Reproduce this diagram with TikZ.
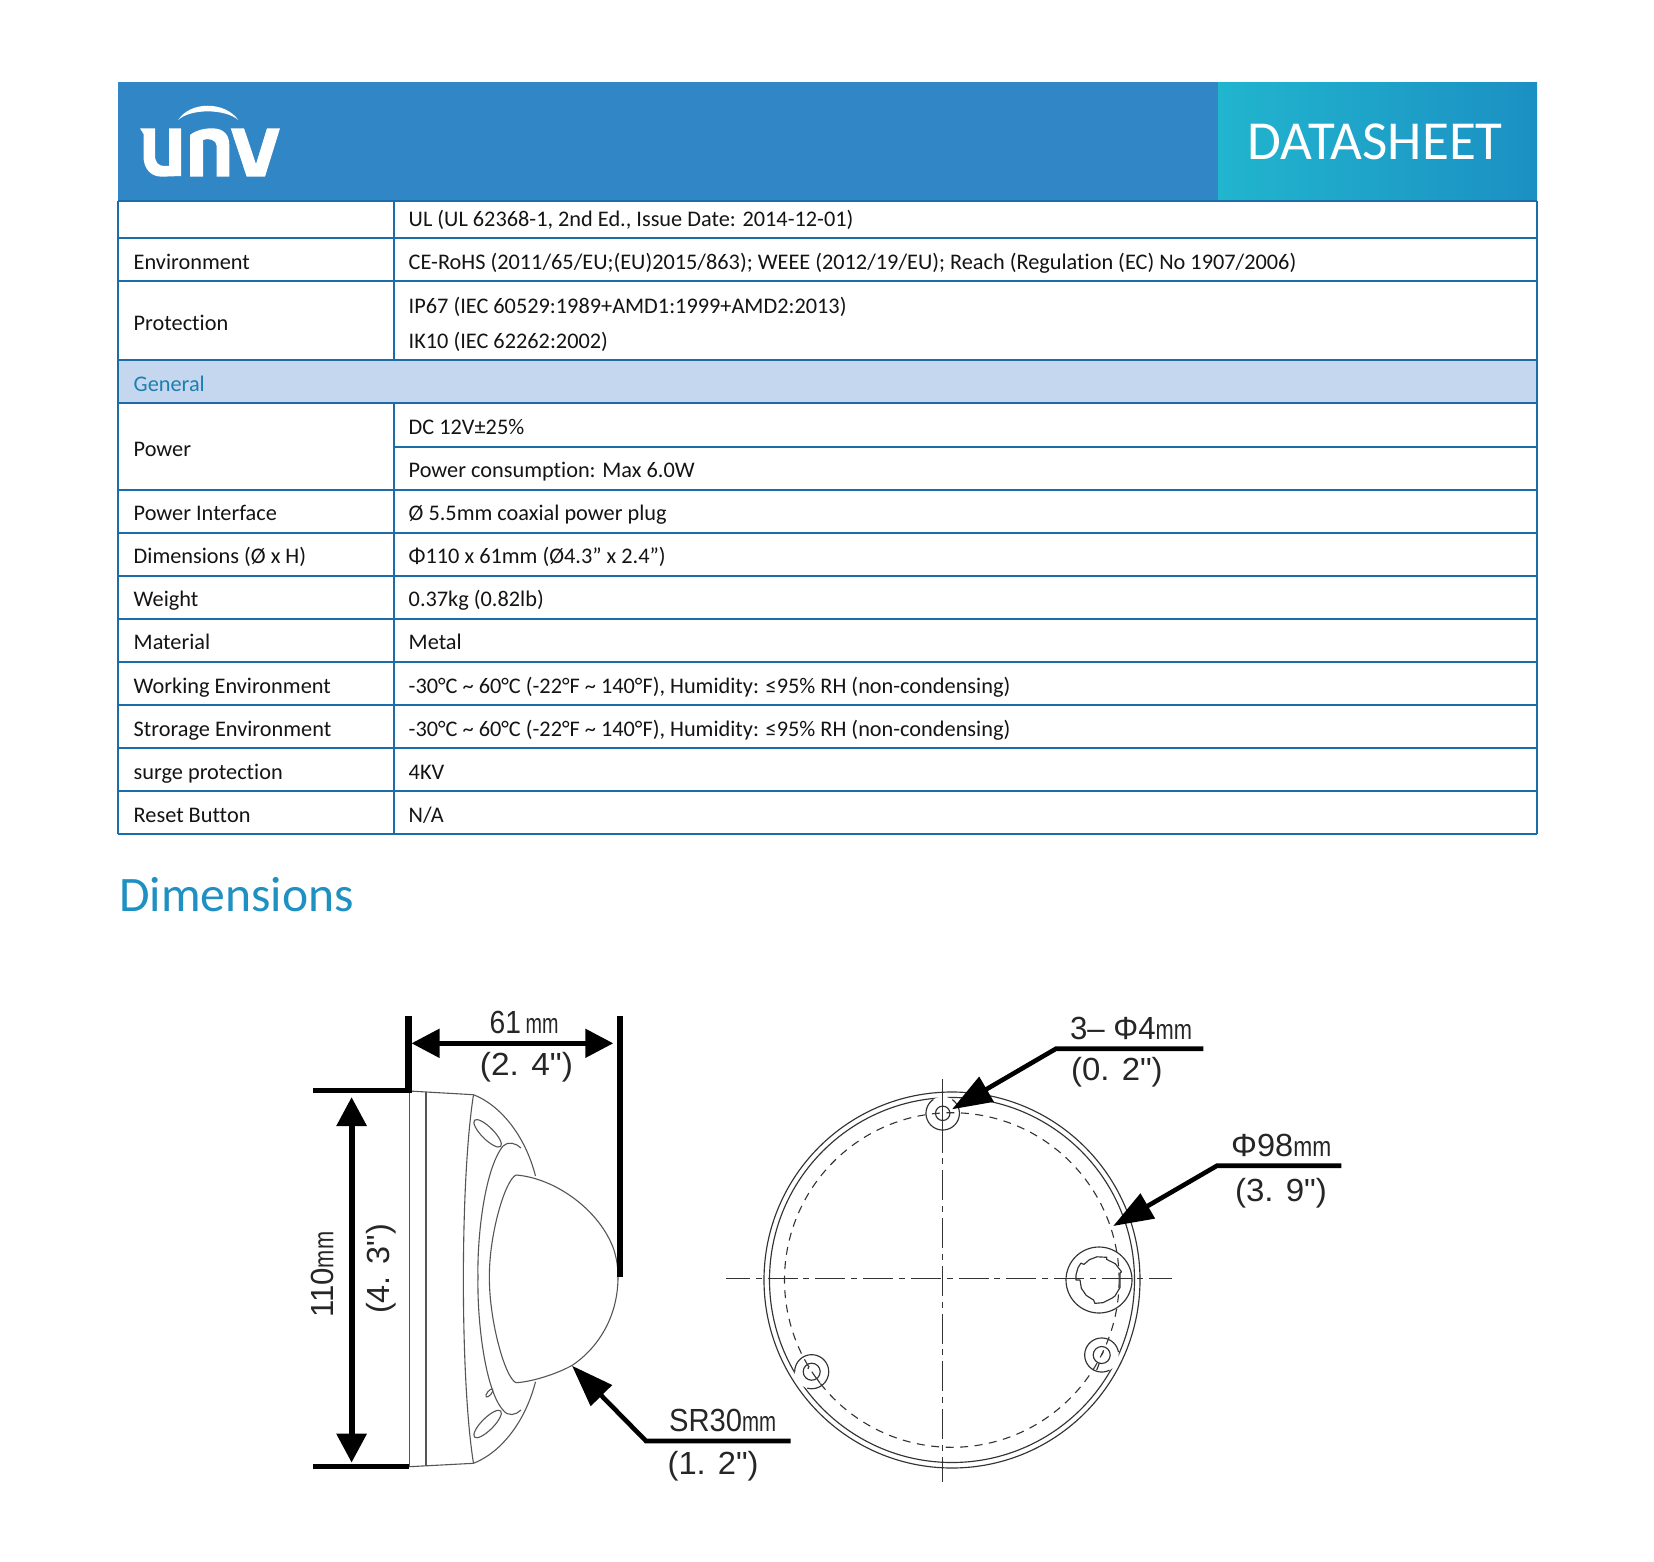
\documentclass[tikz,border=0pt]{standalone}
\usepackage{graphicx}
\usepackage{fontspec}
\setmainfont{Carlito}[Ligatures=NoCommon]
\newfontfamily\cad{Liberation Sans}
\usetikzlibrary{arrows.meta}
\definecolor{rule}{HTML}{1B6CA8}
\definecolor{headblue}{HTML}{3186C6}
\definecolor{band}{HTML}{C5D7EF}
\definecolor{genblue}{HTML}{1C7FB0}
\definecolor{dimblue}{HTML}{1E90C2}
\definecolor{cadgray}{HTML}{333333}
\definecolor{domegray}{HTML}{555555}
\definecolor{gradl}{HTML}{21B5CE}
\definecolor{gradr}{HTML}{1B90C3}
\tikzset{
  cell/.style={anchor=base west,inner sep=0pt,font=\fontsize{22.3}{26}\selectfont,text=black!92},
  rulel/.style={draw=rule,line width=1.9pt},
  thincad/.style={draw=cadgray,line width=1.15pt},
  domel/.style={draw=domegray,line width=1.1pt},
  fatl/.style={draw=black,line width=6pt},
  leader/.style={draw=black,line width=4.6pt,line join=miter},
  cadtxt/.style={anchor=base west,inner sep=0pt,text=black!85,font=\cad\fontsize{32}{32}\selectfont},
  axisl/.style={draw=cadgray,line width=1.15pt,dash pattern=on 30pt off 5.7pt on 6pt off 6pt},
  dashl/.style={draw=cadgray,line width=1.1pt,dash pattern=on 8pt off 6.5pt},
}
\newcommand{\fitw}[2]{\resizebox{#1pt}{\height}{#2}}
\newcommand{\mmunit}{{\fontsize{28}{28}\selectfont\scalebox{.8}[1]{mm}}}
% arc in picture coordinates: style, cx, cy, r, from, to
\newcommand{\parc}[6]{\draw[#1] plot[domain=#5:#6,samples=50] ({#2+#4*cos(\x)},{#3+#4*sin(\x)});}
\begin{document}
\begin{tikzpicture}[x=1pt,y=-1pt]
\useasboundingbox (0,0) rectangle (1654,1562);
\fill[white] (0,0) rectangle (1654,1562);
% header
\fill[headblue] (118,82.3) rectangle (1218,201);
\shade[left color=gradl,right color=gradr] (1218,82.3) rectangle (1537,201);
\node[anchor=base west,inner sep=0pt,text=white,font=\fontsize{55}{55}\selectfont] (ds) at (1247.5,160) {DATASHEET};
% logo
\fill[white] (140,128.3) -- (155,128.3) -- (155,155) .. controls (155,163) and (159,166) .. (164,166) -- (169,166) -- (169,128.3) -- (181,128.3) -- (181,176) -- (162,176.7) .. controls (150,176.7) and (143.5,168) .. (143.5,156) -- (143.5,134) -- cycle;
\fill[white] (190,176.7) -- (190,135) .. controls (196,130) and (205,128.3) .. (212,128.3) .. controls (223,128.3) and (229.3,134) .. (229.3,145) -- (229.3,176.7) -- (216.7,176.7) -- (216.7,146) .. controls (216.7,140) and (208,137.5) .. (203,140) -- (203,176.7) -- cycle;
\fill[white] (230.7,128.3) -- (244,128.3) -- (256,164) -- (267,128.3) -- (280,128.3) -- (265,176.7) -- (246.7,176.7) -- cycle;
\fill[white] (178.3,120) .. controls (190,101) and (225,101) .. (238.3,120) .. controls (225,108.5) and (190,108.5) .. (178.3,120) -- cycle;
% general band
\fill[band] (118,360) rectangle (1537,402.7);
% table rules
\foreach \yy in {201,237.7,280.7,360,402.7,490,532.7,575.7,618.7,662,704.7,748,790.7,833.7}
  \draw[rulel] (118,\yy) -- (1537,\yy);
\draw[rulel] (394,447) -- (1537,447);
\draw[rulel] (118,201) -- (118,833.7);
\draw[rulel] (1537,201) -- (1537,833.7);
\draw[rulel] (394,201) -- (394,360);
\draw[rulel] (394,402.7) -- (394,833.7);
% table text
\node[cell] (l1) at (408.5,227) {UL (UL 62368-1, 2nd Ed., Issue Date: 2014-12-01)};
\node[cell] (k2) at (133.5,269.3) {Environment};
\node[cell] (l2) at (408.5,269.3) {CE-RoHS (2011/65/EU;(EU)2015/863); WEEE (2012/19/EU); Reach (Regulation (EC) No 1907/2006)};
\node[cell] (k3) at (133.5,330) {Protection};
\node[cell] (l3) at (408.5,313) {IP67 (IEC 60529:1989+AMD1:1999+AMD2:2013)};
\node[cell] (l3b) at (408.5,348) {IK10 (IEC 62262:2002)};
\node[cell,text=genblue] (gen) at (133.5,391.7) {General};
\node[cell] (k4) at (133.5,456) {Power};
\node[cell] (l4) at (408.5,434) {DC 12V±25\%};
\node[cell] (l4b) at (408.5,477.7) {Power consumption: Max 6.0W};
\node[cell] (k5) at (133.5,520) {Power Interface};
\node[cell] (l5) at (408.5,520) {Ø 5.5mm coaxial power plug};
\node[cell] (k6) at (133.5,563.7) {Dimensions (Ø x H)};
\node[cell] (l6) at (408.5,563.7) {Φ110 x 61mm (Ø4.3” x 2.4”)};
\node[cell] (k7) at (133.5,606) {Weight};
\node[cell] (l7) at (408.5,606) {0.37kg (0.82lb)};
\node[cell] (k8) at (133.5,649) {Material};
\node[cell] (l8) at (408.5,649) {Metal};
\node[cell] (k9) at (133.5,693.7) {Working Environment};
\node[cell] (l9) at (408.5,693.7) {-30°C \textasciitilde{} 60°C (-22°F \textasciitilde{} 140°F), Humidity: ≤95\% RH (non-condensing)};
\node[cell] (k10) at (133.5,736.7) {Strorage Environment};
\node[cell] (l10) at (408.5,736.7) {-30°C \textasciitilde{} 60°C (-22°F \textasciitilde{} 140°F), Humidity: ≤95\% RH (non-condensing)};
\node[cell] (k11) at (133.5,779) {surge protection};
\node[cell] (l11) at (408.5,779) {4KV};
\node[cell] (k12) at (133.5,822) {Reset Button};
\node[cell] (l12) at (408.5,822) {N/A};
\node[anchor=base west,inner sep=0pt,text=dimblue,font=\fontsize{49.6}{50}\selectfont] (dimh) at (119,911.7) {Dimensions};

% ---- side view ----
\draw[domel] (409,1091) -- (473.5,1094.7);
\draw[domel] (409,1466.7) -- (473.5,1463.3);
\draw[domel] (409.1,1091) -- (409.1,1466.7);
\draw[domel] (426,1091.8) -- (426,1466);
\draw[domel] (473.5,1094.7) .. controls (500,1105) and (525,1135) .. (535.5,1176);
\draw[domel] (473.5,1463.3) .. controls (500,1453) and (525,1423) .. (535.5,1381.7);
\draw[domel] (473.5,1094.7) .. controls (460,1180) and (460,1380) .. (473.5,1463.3);
\draw[domel] (521,1148) .. controls (516,1143) and (508,1141) .. (503,1146) .. controls (484,1170) and (477,1240) .. (478,1277) .. controls (477,1320) and (485,1390) .. (503,1410) .. controls (508,1417) and (516,1415) .. (521,1410);
\draw[domel] (516,1175) .. controls (505,1180) and (489,1235) .. (489.4,1277) .. controls (489,1320) and (505,1378) .. (516,1382.7);
\draw[domel] (516,1175) .. controls (555,1178) and (600,1210) .. (614,1250) .. controls (617,1260) and (618,1268) .. (618,1277) .. controls (618,1320) and (595,1350) .. (572.7,1365) .. controls (555,1375) and (530,1382) .. (516,1382.7);
\draw[domel,rotate around={-45:(487.6,1133.3)}] (487.6,1133.3) ellipse [x radius=18.5,y radius=6];
\draw[domel,rotate around={45:(487.6,1424)}] (487.6,1424) ellipse [x radius=18.5,y radius=6];
\draw[domel,rotate around={50:(489.4,1393)}] (489.4,1393) ellipse [x radius=5,y radius=2];
% extension lines
\draw[draw=black,line width=7pt] (408,1016) -- (408,1093);
\draw[fatl] (620,1016) -- (620,1276.7);
\draw[draw=black,line width=5pt] (313.4,1090) -- (411,1090);
\draw[draw=black,line width=5pt] (313.4,1466) -- (409,1466);
% dimension arrows
\coordinate (wl) at (411.5,1043.3);
\coordinate (wr) at (613.3,1043.3);
\draw[draw=black,line width=5pt,{Triangle[length=28pt,width=28pt]}-{Triangle[length=28pt,width=28pt]}] (wl) -- (wr);
\coordinate (ht) at (351.6,1097);
\coordinate (hb) at (351.6,1462.7);
\draw[fatl,{Triangle[length=29pt,width=29pt]}-{Triangle[length=29pt,width=29pt]}] (ht) -- (hb);
\coordinate (sr1) at (790.7,1441);
\coordinate (sr2) at (646,1441);
\coordinate (sr3) at (572,1365.7);
\draw[leader,-{Triangle[length=42pt,width=29pt]}] (sr1) -- (sr2) -- (sr3);
% side labels
\node[cadtxt] (t61) at (489.4,1033) {\fitw{69}{61\,\mmunit}};
\node[cadtxt] (t24) at (479.7,1075.5) {\fitw{93}{(2. 4")}};
\node[cadtxt,rotate=90] (t110) at (333.4,1318) {\fitw{86}{110\mmunit}};
\node[cadtxt,rotate=90] (t43) at (389.5,1314) {\fitw{90}{(4. 3")}};
\node[cadtxt] (tsr) at (669,1431) {\fitw{107}{SR30\mmunit}};
\node[cadtxt] (t12) at (667.4,1474.5) {\fitw{91}{(1. 2")}};

% ---- plan view ----
\draw[thincad] (952,1280) circle [radius=188];
\draw[thincad] (952,1280) circle [radius=182.5];
% holes mask the inner ring
\fill[white] (942.7,1113.3) circle [radius=16.7];
\fill[white] (811.7,1371.7) circle [radius=17];
\fill[white] (1101.7,1355) circle [radius=17];
\draw[dashl] (951.8,1280) circle [radius=167.3];
\parc{thincad}{942.7}{1113.3}{16.7}{-55}{236}
\parc{thincad}{811.7}{1371.7}{17}{-180}{105}
\parc{thincad}{1101.7}{1355}{17}{63}{350}
\draw[thincad] (942.7,1113.3) circle [radius=7.2];
\draw[thincad] (811.7,1371.7) circle [radius=8.5];
\draw[thincad] (1101.7,1355) circle [radius=8.5];
\draw[thincad] (809,1366) -- (808,1369);
\draw[thincad] (816.7,1378.3) -- (820,1383.3);
\draw[thincad] (1103.3,1351.7) -- (1101.7,1355);
\draw[thincad] (1099.3,1363.3) -- (1096.7,1370);
% cable port
\draw[thincad] (1099,1280) circle [radius=33];
\draw[thincad,shift={(1099,1280)},line join=round] (-137:24.8) -- (-134:21.7) -- (-115:22.5) -- (-95:23.3) -- (-71:24) -- (-70:22) -- (-45:23) -- (-20:24) -- (-18:22) -- (20:22.3) -- (45:22.6) -- (55:22.3) -- (80:23) -- (100:23.7) -- (105:20.8) -- (130:20) -- (155:19.5) -- (180:19) -- (180:23) -- (-168:23.6) -- (-150:24.3) -- cycle;
% centre lines
\coordinate (ax1) at (726,1278.7);
\coordinate (ax2) at (1171.7,1278.7);
\draw[axisl,dash phase=6pt] (ax1) -- (ax2);
\coordinate (ay1) at (942.7,1079);
\coordinate (ay3) at (942.7,1122.7);
\coordinate (ay2) at (942.7,1481.7);
\draw[thincad] (ay1) -- (ay3);
\draw[axisl] (ay3) -- (ay2);
% plan leaders
\coordinate (a1) at (1203.3,1048.7);
\coordinate (a2) at (1056,1048.7);
\coordinate (a3) at (952,1109.3);
\draw[leader,-{Triangle[length=40pt,width=28pt]}] (a1) -- (a2) -- (a3);
\coordinate (b1) at (1341.3,1165.7);
\coordinate (b2) at (1217,1165.7);
\coordinate (b3) at (1113.2,1226);
\draw[leader,-{Triangle[length=40pt,width=28pt]}] (b1) -- (b2) -- (b3);
\node[cadtxt] (t34) at (1069.9,1039.3) {\fitw{122}{3– Φ4\mmunit}};
\node[cadtxt] (t02) at (1071,1080.2) {\fitw{91.5}{(0. 2")}};
\node[cadtxt] (t98) at (1231,1156.7) {\fitw{100}{Φ98\mmunit}};
\node[cadtxt] (t39) at (1234.8,1201.2) {\fitw{92}{(3. 9")}};
\end{tikzpicture}
\end{document}
